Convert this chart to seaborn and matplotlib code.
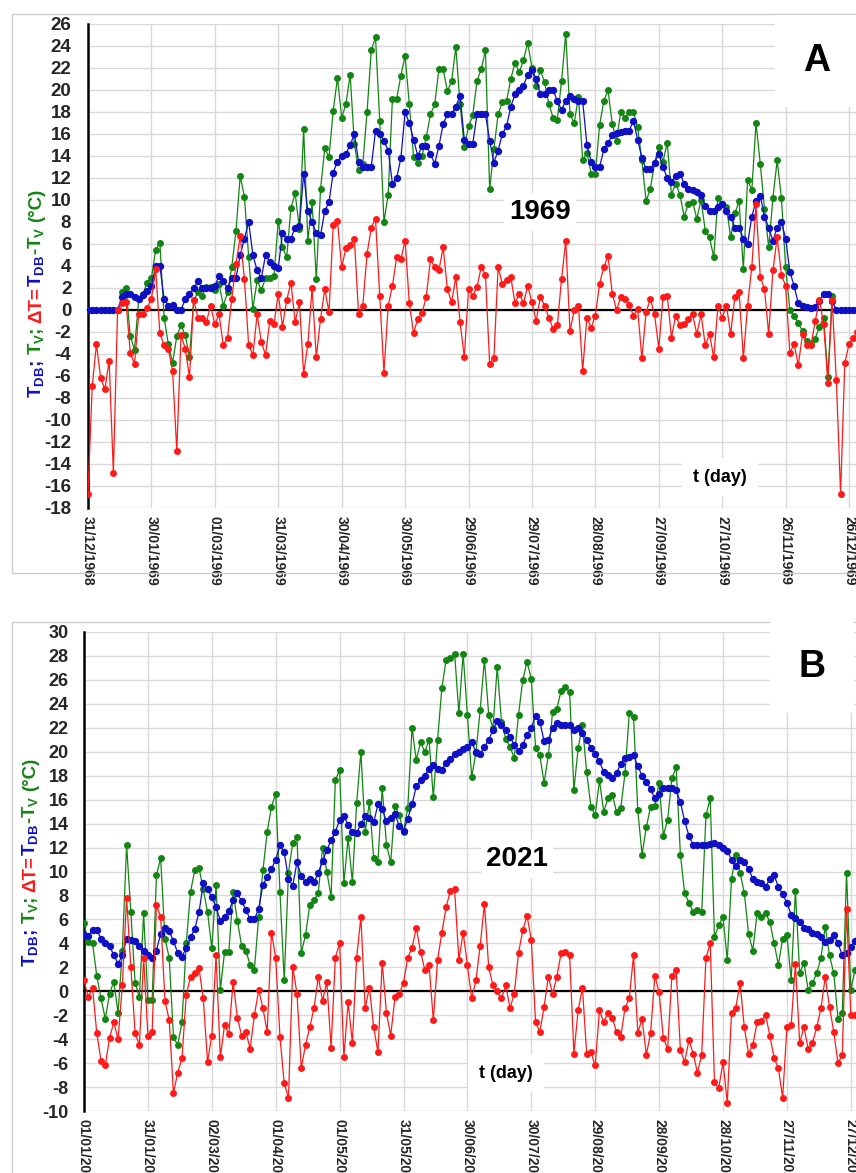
import numpy as np
import pandas as pd
import matplotlib
matplotlib.use("Agg")
import matplotlib.pyplot as plt
import matplotlib.dates as mdates
from matplotlib.patches import Rectangle
import seaborn as sns

nan = np.nan

# ---------------- data (values every second day) ----------------
step_days = 2
start_1969 = "1968-12-31"
start_2021 = "2021-01-01"

tdb_1969 = [
    0, 0, 0, 0, 0, 0, 0, 0,
    1.2, 1.5, 1.5, 1.2, 1.0, 1.4, 1.7, 2.2,
    4.0, 4.0, 1.0, 0.4, 0.5, 0.0, 0.0, 1.0,
    1.5, 2.0, 2.6, 2.0, 2.0, 2.0, 2.2, 3.1,
    2.6, 2.0, 2.9, 2.9, 5.0, 6.5, 8.0, 5.0,
    3.6, 2.9, 5.0, 4.4, 4.0, 3.8, 7.0, 6.5,
    6.5, 7.5, 7.6, 12.4, 9.0, 8.0, 7.0, 6.8,
    9.0, 9.8, 12.5, 13.5, 14.0, 14.2, 15.0, 16.0,
    13.5, 13.0, 13.0, 13.0, 16.3, 16.0, 15.4, 14.5,
    11.5, 12.0, 13.8, 18.0, 17.0, 15.5, 14.0, 14.9,
    14.9, 14.2, 13.3, 14.9, 16.9, 17.8, 17.8, 18.5,
    19.5, 15.5, 15.1, 15.1, 17.8, 17.8, 17.8, 15.4,
    13.4, 14.5, 16.0, 16.7, 18.5, 19.6, 20.0, 20.4,
    21.4, 21.8, 21.0, 19.6, 19.6, 20.0, 20.0, 19.0,
    18.2, 19.0, 19.5, 19.2, 19.0, 19.0, 15.0, 13.5,
    13.0, 13.0, 14.6, 15.2, 15.9, 16.1, 16.2, 16.3,
    16.3, 17.2, 15.5, 13.8, 12.8, 12.8, 13.4, 14.2,
    13.0, 12.0, 11.6, 12.2, 12.4, 11.5, 11.0, 10.9,
    10.7, 10.5, 9.5, 9.0, 9.0, 9.4, 9.6, 9.0,
    8.5, 7.5, 7.5, 6.5, 6.0, 8.5, 9.9, 10.4,
    8.5, 7.5, 6.3, 7.5, 8.0, 6.5, 3.5, 2.2,
    0.6, 0.4, 0.3, 0.2, 0.3, 0.8, 1.5, 1.5,
    0.8, 0, 0, 0, 0, 0, 0,
]
tv_1969 = [
    nan, nan, nan, nan, nan, nan, nan, nan,
    1.6, 2.0, -2.4, -3.6, 1.0, 1.5, 2.5, 2.9,
    5.5, 6.1, -0.7, -3.1, -4.8, -2.4, -1.4, -2.3,
    -4.3, 0.9, 1.6, 1.3, 2.1, 2.1, 1.8, 2.4,
    0.4, 1.6, 3.9, 7.2, 12.2, 10.3, 4.8, 0.1,
    2.7, 1.8, 2.9, 2.9, 3.1, 8.1, 5.7, 4.8,
    9.3, 10.6, 7.4, 16.5, 6.3, 9.8, 2.8, 11.0,
    14.7, 13.9, 18.1, 21.1, 17.5, 18.7, 21.4, 15.1,
    12.7, 13.3, 18.0, 23.6, 24.8, 17.2, 8.0, 10.5,
    19.2, 19.2, 21.3, 23.1, 18.7, 13.9, 13.4, 14.0,
    15.7, 17.8, 18.7, 21.9, 21.9, 19.9, 20.8, 23.9,
    18.7, 14.8, 16.7, 17.7, 20.8, 21.9, 23.6, 11.0,
    14.6, 17.8, 18.9, 19.0, 21.0, 22.5, 21.6, 22.7,
    24.3, 22.0, 20.4, 21.8, 20.7, 18.7, 17.5, 17.3,
    20.8, 25.1, 17.8, 17.0, 19.4, 13.6, 14.3, 12.4,
    12.4, 16.8, 19.0, 20.0, 16.9, 15.4, 18.0, 17.5,
    18.0, 18.0, 16.6, 13.6, 9.9, 11.0, 13.4, 14.8,
    13.5, 15.2, 10.5, 11.5, 10.5, 8.5, 9.6, 9.8,
    8.3, 10.0, 7.2, 6.6, 4.8, 10.2, 9.6, 9.4,
    6.6, 8.8, 9.9, 3.7, 11.8, 10.9, 17.0, 13.3,
    9.2, 5.7, 10.2, 13.6, 10.2, 3.9, 0.0, -0.5,
    -1.2, -1.9, -2.8, -3.1, -2.6, -1.5, -0.7, -6.1,
    1.3, nan, nan, nan, nan, nan, nan,
]
dt_1969 = [
    -16.7, -6.9, -3.1, -6.2, -7.2, -4.6, -14.8, 0.0,
    0.6, 0.7, -3.9, -4.9, -0.4, -0.4, 0.2, 1.0,
    3.7, -2.1, -3.2, -3.5, -5.5, -12.8, -2.3, -3.5,
    -6.1, 0.9, -0.7, -0.7, -1.1, 0.4, -1.3, -0.4,
    -3.2, -2.5, 1.0, 4.2, 6.7, 2.8, -3.2, -4.1,
    -0.4, -2.9, -4.1, -1.0, -1.3, 1.5, -1.5, 0.9,
    2.5, -1.1, 0.7, -5.8, -3.1, 2.0, -4.3, -0.8,
    1.9, -0.2, 7.7, 8.1, 3.9, 5.6, 5.9, 6.5,
    -0.4, 0.4, 5.1, 7.5, 8.3, 1.3, -5.7, 0.4,
    2.2, 4.8, 4.6, 6.3, 0.6, -2.1, -0.8, -0.3,
    1.2, 4.6, 3.9, 3.6, 5.7, 1.9, 0.7, 3.0,
    -1.1, -4.3, 1.9, 1.3, 2.1, 3.9, 3.2, -4.9,
    -4.4, 3.9, 2.4, 2.7, 3.0, 0.6, 1.5, 0.6,
    2.2, 0.7, -1.0, 1.2, 0.4, -0.7, -1.7, -1.4,
    2.8, 6.3, -1.9, 0.0, 0.4, -5.5, -0.7, -1.6,
    -0.5, 2.4, 3.9, 4.9, 1.5, 0.0, 1.2, 1.0,
    0.5, -0.5, 0.1, -4.4, -0.2, 1.0, -0.4, -3.5,
    1.2, 1.3, -2.5, -0.5, -1.4, -1.3, -0.8, -0.4,
    -2.2, -0.4, -3.2, -2.2, -4.3, 0.4, -0.7, 0.4,
    -2.2, 1.2, 1.6, -4.4, 0.4, 3.9, 9.6, 3.0,
    1.9, -2.2, 3.6, 6.6, 3.2, 2.2, -3.9, -3.1,
    -5.0, -2.2, -3.2, -3.2, -1.0, 0.9, -1.3, -6.6,
    0.9, -6.4, -16.7, -4.8, -3.1, -2.5, -2.0,
]

tdb_2021 = [
    4.7, 4.6, 5.1, 5.1, 4.4, 4.0, 3.8, 3.0,
    2.3, 3.0, 4.4, 4.3, 4.2, 3.8, 3.4, 3.0,
    2.8, 3.4, 4.8, 5.3, 5.0, 4.2, 3.2, 2.9,
    3.6, 4.5, 5.2, 6.6, 9.0, 8.5, 7.9, 7.0,
    5.9, 6.2, 6.7, 7.6, 8.2, 7.5, 6.8, 6.0,
    6.0, 6.9, 8.9, 9.5, 10.2, 11.0, 12.2, 11.6,
    9.4, 8.8, 10.8, 9.6, 9.1, 9.4, 9.1, 9.9,
    10.9, 11.8, 12.6, 13.3, 14.3, 14.6, 13.9, 13.3,
    13.2, 14.0, 14.6, 14.5, 14.1, 15.6, 15.2, 14.2,
    14.5, 14.8, 13.8, 13.4, 14.4, 15.6, 17.1, 17.6,
    18.0, 18.6, 18.9, 18.6, 18.5, 19.1, 19.4, 19.8,
    20.0, 20.2, 20.4, 20.8, 20.0, 19.8, 20.4, 21.0,
    21.8, 22.6, 22.2, 21.8, 21.2, 20.6, 20.1, 20.6,
    21.4, 22.0, 23.0, 22.5, 20.9, 21.0, 22.0, 22.4,
    22.2, 22.2, 22.2, 21.8, 22.0, 21.6, 21.0, 20.3,
    19.8, 19.2, 18.3, 18.1, 17.8, 18.2, 19.0, 19.5,
    19.6, 19.7, 18.8, 18.0, 17.5, 16.9, 16.1, 16.5,
    17.0, 17.0, 17.0, 16.8, 15.8, 14.2, 13.0, 12.2,
    12.2, 12.2, 12.2, 12.3, 12.4, 12.2, 12.0, 11.7,
    11.0, 10.5, 11.0, 10.8, 10.2, 9.4, 9.1, 9.0,
    8.7, 9.4, 9.7, 8.7, 8.1, 7.4, 6.4, 6.1,
    5.8, 5.3, 5.2, 4.9, 4.8, 4.5, 4.1, 4.3,
    4.7, 4.0, 3.0, 3.2, 3.7, 4.2, 4.5,
]
tv_2021 = [
    5.7, 4.1, 4.0, 1.3, -0.6, -2.3, -0.2, 0.8,
    -1.8, 3.4, 12.2, 6.6, 0.7, -0.5, 6.5, -0.7,
    -0.7, 9.7, 11.1, 4.4, 2.8, -3.8, -4.5, -2.6,
    4.0, 8.3, 10.1, 10.3, 8.5, 6.6, 3.6, 8.9,
    0.1, 3.3, 3.3, 8.3, 5.9, 3.8, 3.4, 2.2,
    1.8, 6.2, 10.1, 13.3, 15.4, 16.5, 8.3, 0.9,
    9.9, 12.4, 12.9, 3.2, 4.7, 7.2, 7.6, 8.2,
    12.0, 10.0, 7.9, 17.6, 18.5, 9.0, 12.8, 9.1,
    15.7, 20.0, 13.3, 15.8, 11.1, 10.8, 17.0, 12.2,
    10.8, 15.5, 14.7, 13.3, 15.3, 22.0, 19.3, 20.8,
    20.0, 21.0, 16.2, 21.0, 25.3, 27.7, 27.8, 28.2,
    23.2, 28.2, 23.1, 17.9, 19.9, 23.5, 27.7, 23.1,
    22.0, 27.1, 22.5, 21.1, 20.4, 19.5, 23.1, 26.0,
    27.5, 26.1, 20.3, 19.7, 17.4, 19.7, 23.3, 23.6,
    25.1, 25.4, 25.0, 16.8, 20.3, 22.2, 18.3, 15.4,
    14.7, 17.6, 15.0, 16.1, 16.4, 15.0, 15.3, 18.2,
    23.2, 22.9, 15.1, 11.4, 13.7, 15.4, 15.5, 17.4,
    13.0, 14.3, 17.8, 18.7, 11.4, 8.2, 7.4, 6.6,
    6.8, 6.6, 14.7, 16.1, 4.5, 5.5, 6.2, 2.6,
    9.4, 11.4, 9.9, 8.2, 4.8, 3.4, 6.5, 6.2,
    6.5, 5.8, 4.0, 2.2, 4.4, 4.7, 0.9, 8.4,
    1.5, 2.4, 0.1, 0.7, 1.5, 2.8, 5.4, 3.0,
    1.5, -2.3, -1.8, 9.9, 0.1, 1.8, 2.5,
]
dt_2021 = [
    0.9, -0.5, 0.3, -3.5, -5.8, -6.2, -3.9, -2.6,
    -4.0, 0.5, 7.8, 2.0, -3.5, -4.5, 2.8, -3.7,
    -3.4, 7.2, 6.2, -0.8, -2.4, -8.5, -6.8, -5.6,
    -0.3, 1.2, 1.5, 1.9, -0.6, -5.9, -3.7, 3.0,
    -5.5, -2.8, -3.6, 0.8, -2.2, -3.7, -3.4, -4.8,
    -2.0, 0.1, -1.4, -3.4, 4.9, 2.8, -3.8, -7.7,
    -8.9, 2.0, -0.2, -6.4, -4.5, -3.0, -1.4, 1.2,
    -0.8, 0.8, -4.7, 2.8, 4.0, -5.5, -0.9, -4.3,
    2.8, 6.2, -1.4, 0.3, -3.0, -5.1, 2.4, -1.8,
    -3.7, -0.5, -0.2, 0.7, 2.8, 3.6, 5.3, 3.3,
    1.8, 2.2, -2.4, 2.6, 4.9, 7.0, 8.4, 8.5,
    2.6, 4.9, 2.2, -0.6, 0.9, 3.8, 7.3, 2.0,
    0.5, 0.0, -0.6, 0.5, -1.4, -0.2, 3.2, 5.1,
    6.3, 4.3, -2.6, -3.4, -1.3, 1.2, -0.2, 1.2,
    3.2, 3.3, 3.0, -5.2, -1.6, 0.3, -5.2, -5.1,
    -6.2, -1.6, -2.6, -1.8, -2.2, -3.4, -3.8, -1.4,
    -0.6, 3.0, -3.5, -2.3, -5.3, -3.5, 1.3, -0.1,
    -3.9, -4.8, 1.3, 1.8, -4.9, -5.9, -4.1, -5.2,
    -6.8, -5.3, 2.8, 4.0, -7.6, -8.1, -5.9, -9.3,
    -1.8, -1.4, 0.7, -3.0, -5.2, -4.5, -2.6, -2.5,
    -2.0, -3.7, -5.6, -6.4, -8.9, -3.0, -2.8, 2.3,
    -4.3, -3.0, -4.8, -4.3, -3.0, -1.4, 1.2, -1.3,
    -3.4, -6.0, -5.3, 6.9, -2.0, -2.0, -1.0,
]

# axis ticks: a labelled tick every 30 days, small ticks every 6 days
major_step_days = 30
minor_step_days = 6
n_major = 13
span_days = 370

BLUE = "#0f0fc4"
GREEN = "#128512"
RED = "#ff1a1a"

# ---------------- style ----------------
sns.set_style("white")
plt.rcParams["font.family"] = ["Liberation Sans", "DejaVu Sans"]
plt.rcParams["font.weight"] = "bold"
plt.rcParams["axes.unicode_minus"] = False
plt.rcParams["mathtext.fontset"] = "custom"
plt.rcParams["mathtext.rm"] = "Liberation Sans:bold"
plt.rcParams["mathtext.it"] = "Liberation Sans:bold"
plt.rcParams["mathtext.bf"] = "Liberation Sans:bold"

W, H = 856, 1173
fig = plt.figure(figsize=(W / 100, H / 100), dpi=100)
fig.patch.set_facecolor("white")


def fx(px):
    return px / W


def fy(py):
    return 1 - py / H


def draw_panel(start, tdb, tv, dt, ymin, ymax, box, frame, ylab, texts, ytick_size, ytick_pad):
    left, top, bottom, px_per_day = box
    width = span_days * px_per_day
    ax = fig.add_axes([fx(left), fy(bottom), width / W, (bottom - top) / H])
    ax.patch.set_alpha(0)

    t0 = mdates.date2num(pd.Timestamp(start))
    x = t0 + step_days * np.arange(len(tdb))
    df = pd.DataFrame({"t": x, "TDB": tdb, "TV": tv, "DT": dt})

    for col, color, z, ms in [("TV", GREEN, 3, 5.0), ("TDB", BLUE, 4, 5.3), ("DT", RED, 5, 5.0)]:
        sub = df[["t", col]].dropna()
        sns.lineplot(data=sub, x="t", y=col, color=color, marker="o",
                     markersize=ms, markeredgewidth=0, markeredgecolor=color,
                     linewidth=0.9, ax=ax, zorder=z, estimator=None)

    ax.set_xlim(t0, t0 + span_days)
    ax.set_ylim(ymin, ymax)
    major = t0 + major_step_days * np.arange(n_major)
    minor = t0 + minor_step_days * np.arange(int(span_days / minor_step_days) + 1)
    ax.set_xticks(major)
    ax.set_xticks(minor, minor=True)
    ax.set_yticks(np.arange(ymin, ymax + 1, 2))
    ax.set_yticks(np.arange(ymin, ymax + 1, 1), minor=True)
    ax.set_xlabel("")
    ax.set_ylabel("")

    ax.set_axisbelow(True)
    ax.grid(True, which="major", color="#d9d9d9", linewidth=1.0)
    for s in ("top", "right"):
        ax.spines[s].set_visible(False)
    ax.spines["bottom"].set_position(("data", 0))
    ax.spines["bottom"].set_linewidth(1.6)
    ax.spines["bottom"].set_color("black")
    ax.spines["bottom"].set_zorder(2.6)
    ax.spines["left"].set_linewidth(1.8)
    ax.spines["left"].set_color("black")
    ax.tick_params(axis="x", which="both", direction="inout", length=5,
                   width=1.1, color="black", labelbottom=False)
    ax.tick_params(axis="y", which="both", direction="in", length=4,
                   width=1.1, color="black", labelsize=ytick_size, pad=ytick_pad)
    for lbl in ax.get_yticklabels():
        lbl.set_fontweight("bold")

    # date labels along the bottom edge of the plot area
    sec = ax.secondary_xaxis("bottom")
    labels = [mdates.num2date(v).strftime("%d/%m/%Y") for v in major]
    sec.set_xticks(major, labels=labels, rotation=270, fontsize=10,
                   fontweight="bold",
                   fontfamily=["Liberation Sans Narrow", "Liberation Sans"])
    sec.tick_params(length=0, pad=6)
    sec.spines["bottom"].set_visible(False)

    # outer frame of the panel
    fl, ft, fb = frame
    fig.add_artist(Rectangle((fx(fl), fy(fb)), 2, (fb - ft) / H,
                             transform=fig.transFigure, fill=False,
                             edgecolor="#cccccc", linewidth=1.0))

    # multicoloured vertical axis title
    lx, ly = ylab
    renderer = fig.canvas.get_renderer()
    pieces = [(r"T$_{DB}$;", BLUE, 5), (r"T$_{V}$;", GREEN, 5),
              ("ΔT=", RED, 0), (r"T$_{DB}$", BLUE, 0),
              (r"-T$_{V}$", GREEN, 5), ("(°C)", GREEN, 0)]
    ycur = ly
    for s, c, gap in pieces:
        t = fig.text(fx(lx), fy(ycur), s, rotation=90, rotation_mode="anchor",
                     ha="left", va="baseline", color=c, fontsize=13.5,
                     fontweight="bold")
        bb = t.get_window_extent(renderer)
        ycur -= bb.height + gap

    for s, (tx, ty), size, pad in texts:
        fig.text(fx(tx), fy(ty), s, ha="center", va="center", fontsize=size,
                 fontweight="bold", color="black", zorder=6,
                 bbox=dict(boxstyle=f"square,pad={pad}", facecolor="white",
                           edgecolor="none"))
    return ax


draw_panel(start_1969, tdb_1969, tv_1969, dt_1969, -18, 26,
           box=(88, 24, 508, 2.114), frame=(12, 14, 573), ylab=(41, 398),
           texts=[("A", (817, 61), 27, 0.75), ("1969", (540, 212), 20, 0.2),
                  ("t (day)", (720, 477), 13, 0.6)],
           ytick_size=13.5, ytick_pad=12)

draw_panel(start_2021, tdb_2021, tv_2021, dt_2021, -10, 30,
           box=(84, 632, 1111, 2.13), frame=(12, 622, 1300), ylab=(35, 967),
           texts=[("B", (812, 667), 27, 0.75), ("2021", (517, 859), 20, 0.2),
                  ("t (day)", (506, 1073), 13, 0.6)],
           ytick_size=13, ytick_pad=11)

fig.savefig("out.png", dpi=100, facecolor="white")
